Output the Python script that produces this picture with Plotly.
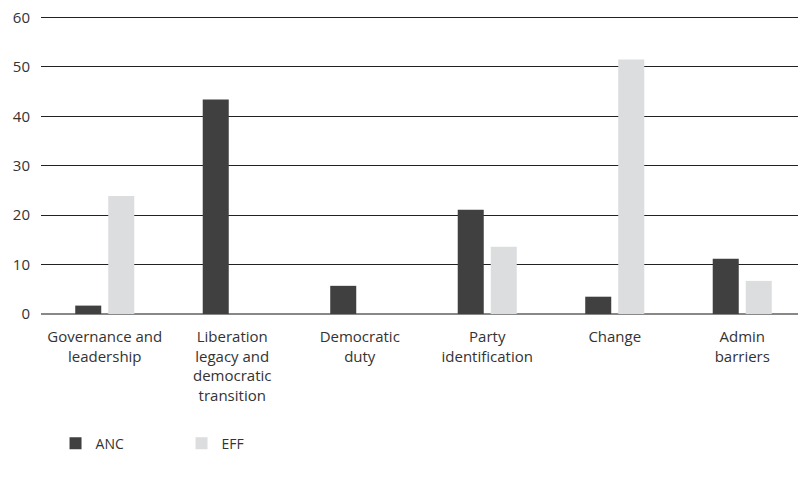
import plotly.graph_objects as go

categories = ["Governance and<br>leadership",
              "Liberation<br>legacy and<br>democratic<br>transition",
              "Democratic<br>duty",
              "Party<br>identification",
              "Change",
              "Admin<br>barriers"]
anc = [1.7, 43.4, 5.7, 21.1, 3.5, 11.2]
eff = [23.9, 0, 0, 13.6, 51.5, 6.7]
y_ticks = [0, 10, 20, 30, 40, 50, 60]

FONT = "Open Sans"
TXT = "#333333"

fig = go.Figure()
fig.add_trace(go.Bar(name="ANC", x=categories, y=anc, marker=dict(color="#404040", line=dict(width=0))))
fig.add_trace(go.Bar(name="EFF", x=categories, y=eff, marker=dict(color="#dcdddf", line=dict(width=0))))

fig.update_layout(
    width=798, height=477,
    margin=dict(l=33, r=0, t=8, b=171),
    paper_bgcolor="white", plot_bgcolor="white",
    barmode="group", bargap=0.482, bargroupgap=0.212,
    font=dict(family=FONT, size=15, color=TXT),
    showlegend=True,
    legend=dict(orientation="h", x=0.019, y=-0.435, xanchor="left", yanchor="middle",
                font=dict(family=FONT, size=14, color=TXT),
                entrywidth=81, entrywidthmode="pixels", traceorder="normal"),
)
fig.update_xaxes(showgrid=False, showline=False, ticks="", automargin=False,
                 tickfont=dict(family=FONT, size=15, color=TXT), ticklabelstandoff=12)
fig.update_yaxes(range=[0, 60.3], tickvals=y_ticks, showgrid=True, gridcolor="#222222", gridwidth=1.3,
                 zeroline=True, zerolinecolor="#888888", zerolinewidth=2, showline=False, ticks="",
                 automargin=False, ticklabeloverflow="allow",
                 tickfont=dict(family=FONT, size=15, color=TXT), ticklabelstandoff=10)

fig.write_html("out.html")
